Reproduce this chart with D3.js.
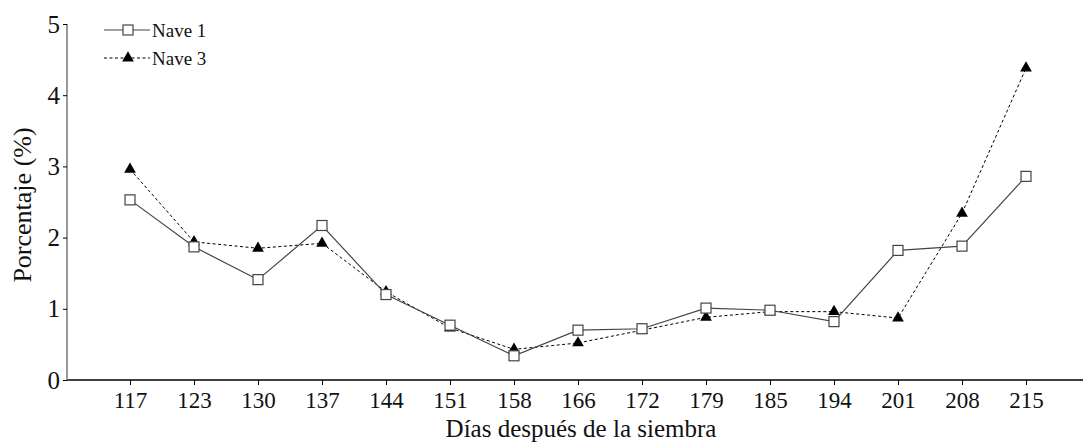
<!DOCTYPE html>
<html><head><meta charset="utf-8">
<script src="https://cdn.jsdelivr.net/npm/d3@7/dist/d3.min.js"></script>
<style>body{margin:0;background:#fff}svg{display:block}svg text{font-family:"Liberation Serif","Times New Roman",serif}</style>
</head><body>
<script>
const days = ["117","123","130","137","144","151","158","166","172","179","185","194","201","208","215"];
const nave1 = [2.53,1.87,1.41,2.17,1.20,0.77,0.34,0.70,0.72,1.01,0.98,0.82,1.82,1.88,2.86];
const nave3 = [2.96,1.94,1.85,1.92,1.24,0.73,0.43,0.52,0.70,0.88,0.96,0.96,0.87,2.34,4.38];
const yTicks = [0,1,2,3,4,5];
const seriesNames = ["Nave 1","Nave 3"];

const W = 1083, H = 444;
const svg = d3.select("body").append("svg").attr("width", W).attr("height", H);
const font = '"Liberation Serif","Times New Roman",serif';

const x = d3.scalePoint().domain(days).range([130, 1026]);
const y = d3.scaleLinear().domain([0,5]).range([380, 24]);
const axisLeft = 67;

// x axis
const gx = svg.append("g").attr("transform", `translate(0,${y(0)})`)
  .call(d3.axisBottom(x).tickSize(5).tickPadding(7));
gx.attr("font-family", null);
gx.select(".domain").remove();
gx.append("line").attr("x1", axisLeft).attr("x2", W).attr("y1", 0).attr("y2", 0)
  .attr("stroke", "#000").attr("stroke-width", 1.5);
gx.selectAll(".tick line").attr("stroke", "#000");
gx.selectAll(".tick text").style("font-family", font).attr("font-size", 23).attr("fill", "#111");

// y axis
const gy = svg.append("g").attr("transform", `translate(${axisLeft},0)`)
  .call(d3.axisLeft(y).tickValues(yTicks).tickFormat(d3.format("d")).tickSize(4).tickPadding(3));
gy.attr("font-family", null);
gy.select(".domain").attr("stroke", "#777").attr("stroke-width", 1.5).attr("d", `M0,${y(5)}V${y(0)}`);
gy.selectAll(".tick line").attr("stroke", "#000");
gy.selectAll(".tick text").style("font-family", font).attr("font-size", 25).attr("fill", "#111");

// axis titles
svg.append("text").attr("x", 581).attr("y", 437).attr("text-anchor", "middle")
  .style("font-family", font).attr("font-size", 25).attr("fill", "#111").text("Días después de la siembra");
svg.append("text").attr("transform", `translate(31,${y(2.5)+3}) rotate(-90)`).attr("text-anchor", "middle")
  .style("font-family", font).attr("font-size", 26).attr("fill", "#111").text("Porcentaje (%)");

const line = d3.line().x((d,i) => x(days[i])).y(d => y(d));

// Nave 3 dashed
svg.append("path").datum(nave3).attr("d", line).attr("fill", "none")
  .attr("stroke", "#000").attr("stroke-width", 1).attr("stroke-dasharray", "3,2.5");
// Nave 1 solid
svg.append("path").datum(nave1).attr("d", line).attr("fill", "none")
  .attr("stroke", "#444").attr("stroke-width", 1.2);

const tri = d3.symbol().type(d3.symbolTriangle).size(60);
svg.append("g").selectAll("path").data(nave3).join("path")
  .attr("d", tri).attr("transform", (d,i) => `translate(${x(days[i])},${y(d)})`).attr("fill", "#000");
svg.append("g").selectAll("rect").data(nave1).join("rect")
  .attr("x", (d,i) => x(days[i]) - 5).attr("y", d => y(d) - 5).attr("width", 10).attr("height", 10)
  .attr("fill", "#fff").attr("stroke", "#444").attr("stroke-width", 1.2);

// legend
const lg = svg.append("g");
const ly = [30, 58];
lg.append("line").attr("x1", 104).attr("x2", 150).attr("y1", ly[0]).attr("y2", ly[0]).attr("stroke", "#444").attr("stroke-width", 1.2);
lg.append("rect").attr("x", 123).attr("y", ly[0]-5).attr("width", 10).attr("height", 10).attr("fill", "#fff").attr("stroke", "#444").attr("stroke-width", 1.2);
lg.append("line").attr("x1", 104).attr("x2", 150).attr("y1", ly[1]).attr("y2", ly[1]).attr("stroke", "#000").attr("stroke-dasharray", "3,2.5");
lg.append("path").attr("d", tri).attr("transform", `translate(128,${ly[1]})`).attr("fill", "#000");
seriesNames.forEach((n,i) => {
  lg.append("text").attr("x", 152).attr("y", ly[i]).attr("dy", "0.35em")
    .style("font-family", font).attr("font-size", 19).attr("fill", "#111").text(n);
});
</script>
</body></html>
